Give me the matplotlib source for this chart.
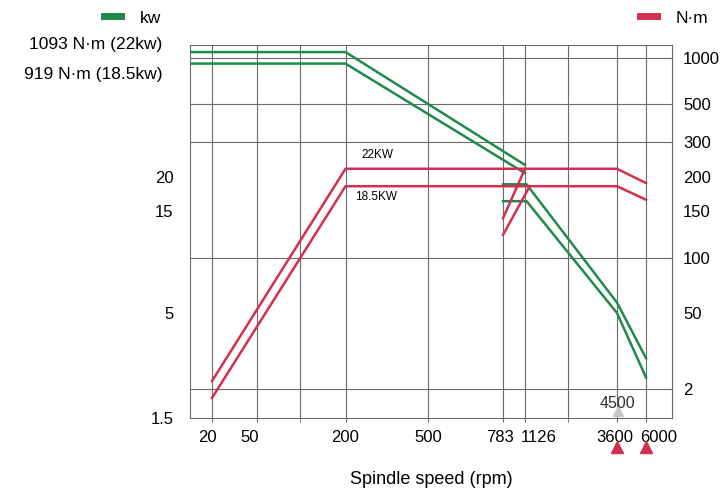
import numpy as np
import matplotlib
matplotlib.use("Agg")
import matplotlib.pyplot as plt
from matplotlib.ticker import FixedLocator, NullFormatter
from matplotlib.lines import Line2D
from matplotlib.transforms import ScaledTranslation, blended_transform_factory

plt.rcParams['font.family'] = ['Liberation Sans', 'DejaVu Sans']

# =====================================================
# DATA
# =====================================================
# torque curves, N·m
g22_low_rpm = [13, 200, 1126]
g22_low_nm = [1093, 1093, 230]
g185_low_rpm = [13, 200, 1126]
g185_low_nm = [919, 919, 209]
g22_high_rpm = [783, 1150, 3600, 6000]
g22_high_nm = [188, 188, 57, 29]
g185_high_rpm = [783, 1150, 3600, 6000]
g185_high_nm = [163, 163, 50, 23]

# power curves, kW
r22_rpm = [20, 200, 3600, 6000]
r22_kw = [2.2, 22, 22, 19.0]
r185_rpm = [20, 200, 3600, 6000]
r185_kw = [1.83, 18.5, 18.5, 16.5]
r22_high_rpm = [783, 1126]
r22_high_kw = [14.1, 22]
r185_high_rpm = [783, 1200]
r185_high_kw = [12.2, 18.5]

x_ticks = [20, 50, 200, 500, 783, 1126, 3600, 6000]
x_labels = ['20', '50', '200', '500', '783', '1126', '3600', '6000']
x_grid_extra = [100, 2000]
kw_ticks = [1.5, 5, 15, 20]
kw_labels = ['1.5', '5', '15', '20']
nm_ticks = [20, 50, 100, 150, 200, 300, 500, 1000]
nm_labels = ['2', '50', '100', '150', '200', '300', '500', '1000']
marker_rpm = [3600, 6000]

# =====================================================
# IRREGULAR PRINTED SCALES (stop value -> position along axis)
# =====================================================
x_stops = [12.8, 20, 50, 100, 200, 500, 783, 1126, 2000, 3600, 6000, 9475]
x_pos = [0, 22, 67, 110, 155.5, 238, 313, 335, 378, 427, 456, 482]
y_stops = [15, 20, 50, 100, 150, 200, 300, 500, 1000, 1216]
y_pos = [0, 29, 105, 160, 207, 241, 276, 314, 360, 373]


def make_scale(stops, pos):
    lv = np.log(stops)
    p = np.asarray(pos, float)

    def fwd(v):
        v = np.clip(np.asarray(v, float), 1e-9, None)
        return np.interp(np.log(v), lv, p)

    def inv(q):
        return np.exp(np.interp(np.asarray(q, float), p, lv))
    return fwd, inv


xf, xi = make_scale(x_stops, x_pos)
yf, yi = make_scale(y_stops, y_pos)

green = '#1f8a4c'
red = '#d3304f'
gridc = '#6b6b6b'

fig = plt.figure(figsize=(7.22, 4.95), dpi=100)
ax = fig.add_axes([190 / 722, 1 - 418 / 495, 482 / 722, 373 / 495])
ax.set_xscale('function', functions=(xf, xi))
ax.set_yscale('function', functions=(yf, yi))
ax.set_xlim(12.8, 9475)
ax.set_ylim(15, 1216)

# torque lines
for r, v in [(g22_low_rpm, g22_low_nm), (g185_low_rpm, g185_low_nm),
             (g22_high_rpm, g22_high_nm), (g185_high_rpm, g185_high_nm)]:
    ax.plot(r, v, color=green, lw=1.8, zorder=3)

# power lines (kW axis reads as N·m / 10)
for r, v in [(r22_rpm, r22_kw), (r185_rpm, r185_kw),
             (r22_high_rpm, r22_high_kw), (r185_high_rpm, r185_high_kw)]:
    ax.plot(r, np.array(v) * 10, color=red, lw=1.8, zorder=3)

ax.text(238, 240, '22KW', fontsize=8.5, ha='left', va='bottom')
ax.text(222, 178, '18.5KW', fontsize=8.5, ha='left', va='top')

# axes / grid
ax.set_axisbelow(True)
ax.xaxis.set_major_locator(FixedLocator(x_ticks))
ax.xaxis.set_minor_locator(FixedLocator(x_grid_extra))
ax.xaxis.set_minor_formatter(NullFormatter())
ax.set_xticklabels(x_labels)
ax.yaxis.set_major_locator(FixedLocator([yi(yf(k * 10)) for k in kw_ticks]))
ax.set_yticklabels(kw_labels)
ax.yaxis.set_minor_locator(FixedLocator(nm_ticks))
ax.yaxis.set_minor_formatter(NullFormatter())
ax.grid(True, which='both', axis='x', color=gridc, lw=0.8)
ax.grid(True, which='minor', axis='y', color=gridc, lw=0.8)
ax.tick_params(axis='x', which='both', length=3, color=gridc, labelsize=12, pad=6)
ax.tick_params(axis='y', which='both', length=0, labelsize=12, pad=12)
for s in ax.spines.values():
    s.set_color(gridc)
    s.set_linewidth(0.8)

for lab, dx in zip(ax.get_xticklabels(), [-5, -7, 0, 0, -3, 14, -2, 13]):
    lab.set_transform(lab.get_transform() + ScaledTranslation(dx / 100, 0, fig.dpi_scale_trans))

ax2 = ax.twinx()
ax2.set_yscale('function', functions=(yf, yi))
ax2.set_ylim(ax.get_ylim())
ax2.yaxis.set_major_locator(FixedLocator(nm_ticks))
ax2.set_yticklabels(nm_labels)
ax2.yaxis.set_minor_locator(FixedLocator([]))
ax2.tick_params(axis='y', length=0, labelsize=12, pad=8)
for s in ax2.spines.values():
    s.set_visible(False)

ax.set_xlabel('Spindle speed (rpm)', fontsize=13, labelpad=18)

# speed markers under the axis
trans = blended_transform_factory(ax.transData, ax.transAxes)
ax.plot(marker_rpm, [-0.078] * len(marker_rpm), ls='none', marker='^',
        color=red, ms=8, transform=trans, clip_on=False)
ax.plot([3650], [0.02], ls='none', marker='^', color='#c8c8c8', ms=7,
        transform=trans, clip_on=False)
ax.text(3650, 0.04, '4500', transform=trans, ha='center', va='center',
        fontsize=11.5, color='#333333')

# side notes
fig.text(162 / 722, 1 - 45 / 495, '1093 N·m (22kw)', ha='right', va='center', fontsize=12.5)
fig.text(162 / 722, 1 - 75 / 495, '919 N·m (18.5kw)', ha='right', va='center', fontsize=12.5)

# legends
fig.legend(handles=[Line2D([], [], color=green, lw=5)], labels=['kw'],
           loc='center left', bbox_to_anchor=(88 / 722, 1 - 18 / 495),
           frameon=False, fontsize=12.5, handlelength=1.0, handletextpad=1.1)
fig.legend(handles=[Line2D([], [], color=red, lw=5)], labels=['N·m'],
           loc='center left', bbox_to_anchor=(624 / 722, 1 - 18 / 495),
           frameon=False, fontsize=12.5, handlelength=1.0, handletextpad=1.1)

plt.savefig('out.png', dpi=100)
